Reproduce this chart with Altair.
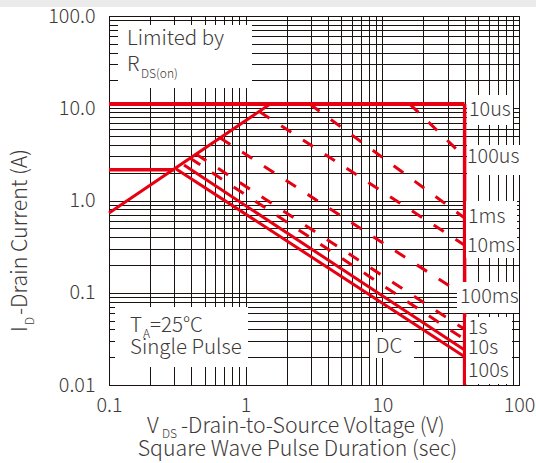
import altair as alt
import pandas as pd

# ---------------- data ----------------
solid_series = ["RDS(on) limit", "ID limit (10us)", "VDS max", "ID pulse limit", "100s", "DC"]
solid_vds = [[0.1, 1.51], [0.1, 40.0], [40.0, 40.0], [0.1, 0.30], [0.354, 40.0], [0.31, 40.0]]
solid_id = [[0.73, 11.1], [11.1, 11.1], [11.1, 0.01], [2.15, 2.15], [2.43, 0.0239], [2.2, 0.0203]]
solid_width = [3, 4, 3.5, 3.5, 3, 3]

dashed_series = ["100us", "1ms", "10ms", "100ms", "1s", "10s"]
dashed_vds = [[15.9, 40.0], [2.95, 40.0], [1.26, 40.0], [0.652, 40.0], [0.435, 40.0], [0.393, 40.0]]
dashed_id = [[11.1, 2.95], [11.1, 0.647], [9.2, 0.328], [4.76, 0.093], [3.18, 0.0402], [2.87, 0.0312]]

x_decades = [0.1, 1, 10, 100]
x_labels = ["0.1", "1", "10", "100"]
y_decades = [0.01, 0.1, 1, 10, 100]
y_labels = ["0.01", "0.1", "1.0", "10.0", "100.0"]
curve_labels = ["10us", "100us", "1ms", "10ms", "100ms", "1s", "10s", "100s"]

# ---------------- styling ----------------
RED = "#e60012"
GRID = "#1a1210"
TXT = "#3e3a39"
FONT = "Noto Sans CJK SC"
W, H = 410, 369
PL, PT = 109, 16

rows = []
for name, vs, cs, w in zip(solid_series, solid_vds, solid_id, solid_width):
    for k, (v, c) in enumerate(zip(vs, cs)):
        rows.append({"series": name, "k": k, "v": v, "i": c, "w": w})
df_solid = pd.DataFrame(rows)
rows = []
for name, vs, cs in zip(dashed_series, dashed_vds, dashed_id):
    for k, (v, c) in enumerate(zip(vs, cs)):
        rows.append({"series": name, "k": k, "v": v, "i": c})
df_dash = pd.DataFrame(rows)

mult = list(range(1, 10))
xgrid = [round(m * d, 6) for d in x_decades[:-1] for m in mult] + [x_decades[-1]]
ygrid = [round(m * d, 6) for d in y_decades[:-1] for m in mult] + [y_decades[-1]]


def label_expr(vals, labs):
    return "".join(f"datum.value == {v} ? '{l}' : " for v, l in zip(vals, labs)) + "''"


common_axis = dict(title=None, ticks=False, grid=True, gridColor=GRID, gridWidth=1, gridOpacity=1,
                   domainColor=GRID, domainWidth=1, labelFont=FONT, labelFontSize=19.8,
                   labelColor=TXT, labelOverlap=False, labelFlush=False, labelFontWeight=300)
xaxis = alt.Axis(values=xgrid, labelExpr=label_expr(x_decades, x_labels), labelPadding=10, **common_axis)
yaxis = alt.Axis(values=ygrid, labelExpr=label_expr(y_decades, y_labels), labelPadding=14, **common_axis)
xenc = alt.X("v:Q", scale=alt.Scale(type="log", domain=[0.1, 100], nice=False), axis=xaxis)
yenc = alt.Y("i:Q", scale=alt.Scale(type="log", domain=[0.01, 100], nice=False), axis=yaxis)

solid = alt.Chart(df_solid).mark_line(color=RED, strokeCap="butt").encode(
    x=xenc, y=yenc, detail="series:N", order="k:Q",
    strokeWidth=alt.StrokeWidth("w:Q", scale=None, legend=None))
dashed = alt.Chart(df_dash).mark_line(color=RED, strokeWidth=3, strokeDash=[12, 14], strokeCap="butt").encode(
    x=xenc, y=yenc, detail="series:N", order="k:Q")

one = pd.DataFrame({"o": [0]})


def box(x1, x2, y1, y2, fill="white"):
    return alt.Chart(one).mark_rect(fill=fill).encode(
        x=alt.value(x1 - PL), x2=alt.value(x2 - PL), y=alt.value(y1 - PT), y2=alt.value(y2 - PT))


def txt(s, x, y, size=20, align="left", baseline="alphabetic", angle=0):
    kw = dict(text=s, font=FONT, fontSize=size, color=TXT, align=align, baseline=baseline, fontWeight=300)
    if angle:
        kw["angle"] = angle
    return alt.Chart(one).mark_text(**kw).encode(x=alt.value(x - PL), y=alt.value(y - PT))


boxes = [
    box(0, 536, 0, 7, fill="#ebebeb"),
    box(118, 252, 25, 88),
    box(115, 248, 307, 367),
    box(370, 414, 332, 358),
    box(467, 513, 95, 125),
    box(467, 521, 145, 175),
    box(466, 517, 201, 258),
    box(457, 519, 282, 313),
    box(466, 512, 317, 384),
]

texts = [
    txt("Limited by", 127, 45, 20.5),
    txt("R", 127, 71, 20.5),
    txt("DS(on)", 141, 78, 12),
    txt("T", 130, 332, 20.5),
    txt("A", 143, 338, 12),
    txt("=25°C", 150, 332, 20.5),
    txt("Single Pulse", 130, 354, 20.5),
    txt("DC", 389, 347, 20.5, align="center", baseline="middle"),
]
lab_x = [469, 467, 468, 467, 460, 468, 468, 468]
lab_y = [110, 157, 217, 246, 297, 328, 348, 371]
for s, lx, ly in zip(curve_labels, lab_x, lab_y):
    texts.append(txt(s, lx, ly, 19.8, baseline="middle"))

titles = [
    txt("V", 147, 433, 21.3),
    txt("DS", 162, 438, 12),
    txt("-Drain-to-Source Voltage (V)", 181, 433, 21.3),
    txt("Square Wave Pulse Duration (sec)", 297.5, 456, 21.3, align="center"),
    txt("I", 27, 332, 21.3, angle=270),
    txt("D", 34, 325, 12, angle=270),
    txt("-Drain Current (A)", 27, 315, 21.3, angle=270),
]

chart = alt.layer(solid, dashed, *boxes, *texts, *titles).properties(
    width=W, height=H,
    padding={"left": PL, "top": PT, "right": 536 - PL - W, "bottom": 463 - PT - H},
    autosize=alt.AutoSizeParams(type="none"),
    background="white",
).configure_view(stroke=GRID, strokeWidth=1)

chart.save("out.html", embed_options={"renderer": "svg", "actions": False})
